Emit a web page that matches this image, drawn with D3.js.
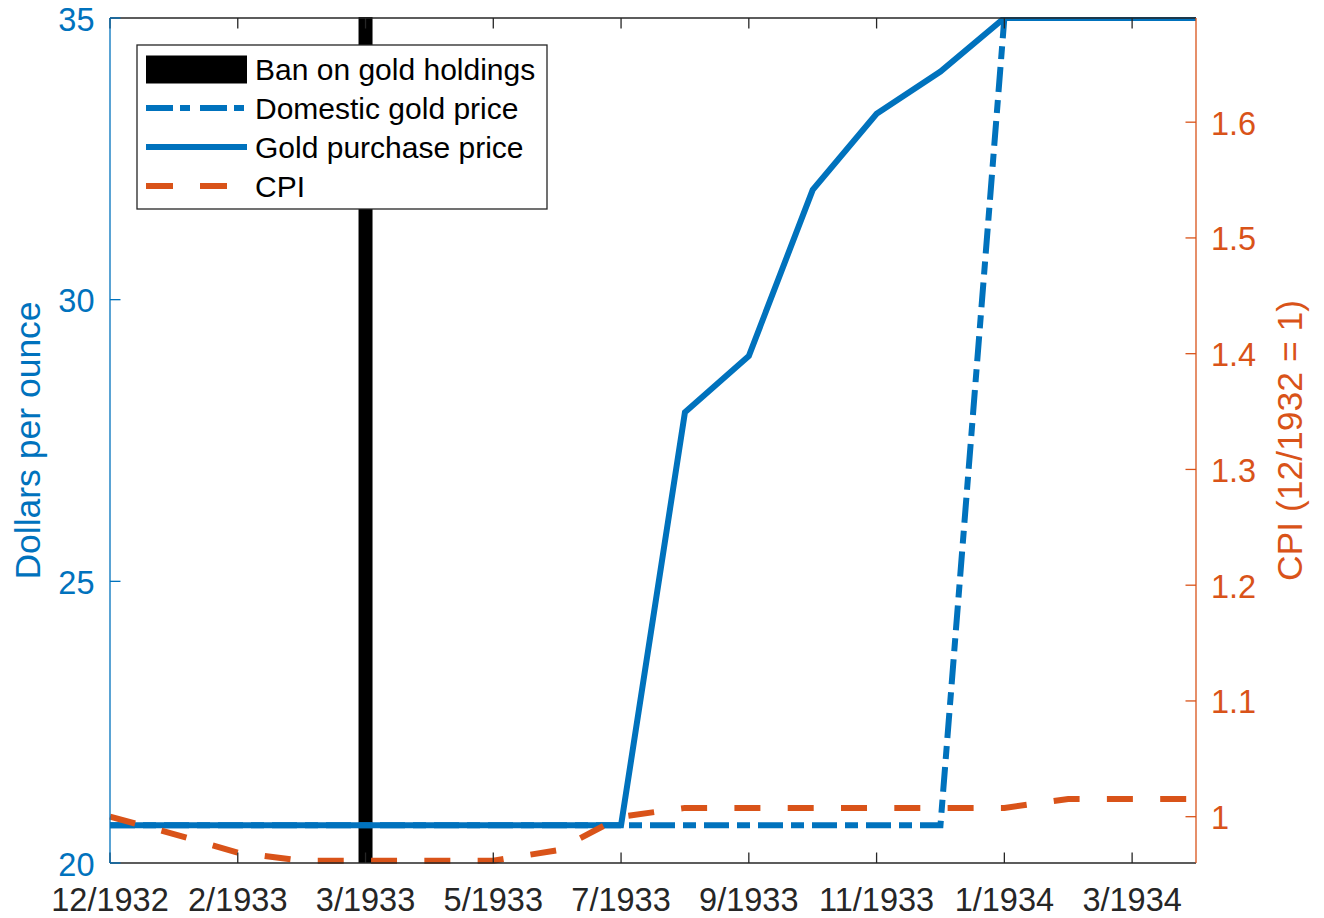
<!DOCTYPE html>
<html>
<head>
<meta charset="utf-8">
<script src="https://cdn.jsdelivr.net/npm/d3@7"></script>
<style>
  html, body { margin: 0; padding: 0; background: #ffffff; }
  svg { display: block; font-family: "Liberation Sans", Arial, Helvetica, sans-serif; }
</style>
</head>
<body>
<svg id="chart" width="1324" height="918"></svg>
<script>
// Month offsets from 12/1932 (one entry per monthly observation)
const monthIndex = [0, 1, 2, 3, 4, 5, 6, 7, 8, 9, 10, 11, 12, 13, 14, 15, 16, 17];

// Dollars per ounce
const goldPurchasePrice = [20.67, 20.67, 20.67, 20.67, 20.67, 20.67, 20.67, 20.67, 20.67,
                           28.0, 29.0, 31.95, 33.3, 34.05, 35.0, 35.0, 35.0, 35.0];
const domesticGoldPrice = [20.67, 20.67, 20.67, 20.67, 20.67, 20.67, 20.67, 20.67, 20.67,
                           20.67, 20.67, 20.67, 20.67, 20.67, 35.0, 35.0, 35.0, 35.0];

// Consumer price index, 12/1932 = 1
const cpiValues = [1.0, 0.985, 0.969, 0.962, 0.962, 0.962, 0.962, 0.971, 1.0,
                   1.0076, 1.0076, 1.0076, 1.0076, 1.0076, 1.0076, 1.0153, 1.0153, 1.0153];

// Month of the ban on private gold holdings
const banMonth = 4;

// Axis ticks
const xTickPositions = [0, 2, 4, 6, 8, 10, 12, 14, 16];
const xTickLabels = ["12/1932", "2/1933", "3/1933", "5/1933", "7/1933", "9/1933", "11/1933", "1/1934", "3/1934"];
const leftTicks = [20, 25, 30, 35];
const rightTicks = [1, 1.1, 1.2, 1.3, 1.4, 1.5, 1.6];

const legendLabels = ["Ban on gold holdings", "Domestic gold price", "Gold purchase price", "CPI"];

const BLUE = "#0072BD", ORANGE = "#D95319", DARK = "#262626";
const TICK_FONT = 32.5, LABEL_FONT = 35.5, LEGEND_FONT = 30;

const plot = { left: 110, right: 1196, top: 18, bottom: 863 };

const svg = d3.select("#chart");

const x = d3.scaleLinear().domain([0, 17]).range([plot.left, plot.right]);
const yL = d3.scaleLinear().domain([20, 35]).range([plot.bottom, plot.top]);
const yR = d3.scaleLinear().domain([0.96, 1.69]).range([plot.bottom, plot.top]);

svg.append("defs").append("clipPath").attr("id", "plotClip")
  .append("rect")
  .attr("x", plot.left - 2).attr("y", plot.top - 1)
  .attr("width", plot.right - plot.left + 4).attr("height", plot.bottom - plot.top + 3);

const marks = svg.append("g").attr("clip-path", "url(#plotClip)");

// Ban marker
marks.append("line")
  .attr("x1", x(banMonth)).attr("x2", x(banMonth))
  .attr("y1", plot.top - 1).attr("y2", plot.bottom)
  .attr("stroke", "#000").attr("stroke-width", 14);

const lineL = d3.line().x((d, i) => x(monthIndex[i])).y(d => yL(d));
const lineR = d3.line().x((d, i) => x(monthIndex[i])).y(d => yR(d));

marks.append("path").datum(domesticGoldPrice)
  .attr("d", lineL).attr("fill", "none")
  .attr("stroke", BLUE).attr("stroke-width", 6)
  .attr("stroke-dasharray", "25 8 13 8");

marks.append("path").datum(goldPurchasePrice)
  .attr("d", lineL).attr("fill", "none")
  .attr("stroke", BLUE).attr("stroke-width", 6)
  .attr("stroke-linejoin", "miter");

marks.append("path").datum(cpiValues)
  .attr("d", lineR).attr("fill", "none")
  .attr("stroke", ORANGE).attr("stroke-width", 6)
  .attr("stroke-dasharray", "26 27.3");

// Axes frame
const axes = svg.append("g");
const TICK = 10.5;

// Bottom and top (box) axis
axes.append("line").attr("x1", plot.left).attr("x2", plot.right)
  .attr("y1", plot.bottom).attr("y2", plot.bottom).attr("stroke", DARK).attr("stroke-width", 1.3);
axes.append("line").attr("x1", plot.left).attr("x2", plot.right)
  .attr("y1", plot.top).attr("y2", plot.top).attr("stroke", DARK).attr("stroke-width", 1.3);

xTickPositions.forEach((p, i) => {
  const px = x(p);
  axes.append("line").attr("x1", px).attr("x2", px)
    .attr("y1", plot.bottom).attr("y2", plot.bottom - TICK).attr("stroke", DARK).attr("stroke-width", 1.3);
  axes.append("line").attr("x1", px).attr("x2", px)
    .attr("y1", plot.top).attr("y2", plot.top + TICK).attr("stroke", DARK).attr("stroke-width", 1.3);
  axes.append("text").attr("x", px).attr("y", 911)
    .attr("text-anchor", "middle").attr("font-size", TICK_FONT).attr("fill", DARK)
    .text(xTickLabels[i]);
});

// Left axis
axes.append("line").attr("x1", plot.left).attr("x2", plot.left)
  .attr("y1", plot.top).attr("y2", plot.bottom).attr("stroke", BLUE).attr("stroke-width", 1.3);
leftTicks.forEach(v => {
  const py = yL(v);
  axes.append("line").attr("x1", plot.left).attr("x2", plot.left + TICK)
    .attr("y1", py).attr("y2", py).attr("stroke", BLUE).attr("stroke-width", 1.3);
  axes.append("text").attr("x", 94.5).attr("y", py + 12.5)
    .attr("text-anchor", "end").attr("font-size", TICK_FONT).attr("fill", BLUE)
    .text(v);
});
axes.append("text")
  .attr("transform", `translate(40, ${(plot.top + plot.bottom) / 2}) rotate(-90)`)
  .attr("text-anchor", "middle").attr("font-size", LABEL_FONT).attr("fill", BLUE)
  .text("Dollars per ounce");

// Right axis
axes.append("line").attr("x1", plot.right).attr("x2", plot.right)
  .attr("y1", plot.top).attr("y2", plot.bottom).attr("stroke", ORANGE).attr("stroke-width", 1.3);
rightTicks.forEach(v => {
  const py = yR(v);
  axes.append("line").attr("x1", plot.right).attr("x2", plot.right - TICK)
    .attr("y1", py).attr("y2", py).attr("stroke", ORANGE).attr("stroke-width", 1.3);
  axes.append("text").attr("x", 1211).attr("y", py + 12.5)
    .attr("text-anchor", "start").attr("font-size", TICK_FONT).attr("fill", ORANGE)
    .text(d3.format("")(v));
});
axes.append("text")
  .attr("transform", `translate(1302, ${(plot.top + plot.bottom) / 2}) rotate(-90)`)
  .attr("text-anchor", "middle").attr("font-size", LABEL_FONT).attr("fill", ORANGE)
  .text("CPI (12/1932 = 1)");

// Legend
const legend = svg.append("g");
legend.append("rect").attr("x", 137).attr("y", 45).attr("width", 410).attr("height", 164)
  .attr("fill", "#fff").attr("stroke", DARK).attr("stroke-width", 1.3);

const rowY = [69.5, 108, 147, 186];
const sx0 = 146, sx1 = 247;
legend.append("rect").attr("x", sx0).attr("y", rowY[0] - 14).attr("width", sx1 - sx0).attr("height", 28)
  .attr("fill", "#000");
legend.append("line").attr("x1", sx0).attr("x2", sx1).attr("y1", rowY[1]).attr("y2", rowY[1])
  .attr("stroke", BLUE).attr("stroke-width", 6).attr("stroke-dasharray", "27 7 10 10");
legend.append("line").attr("x1", sx0).attr("x2", sx1).attr("y1", rowY[2]).attr("y2", rowY[2])
  .attr("stroke", BLUE).attr("stroke-width", 6);
legend.append("line").attr("x1", sx0).attr("x2", sx1).attr("y1", rowY[3]).attr("y2", rowY[3])
  .attr("stroke", ORANGE).attr("stroke-width", 6).attr("stroke-dasharray", "27 27");

legendLabels.forEach((t, i) => {
  legend.append("text").attr("x", 255).attr("y", rowY[i] + 10.5)
    .attr("font-size", LEGEND_FONT).attr("fill", "#000").text(t);
});
</script>
</body>
</html>
